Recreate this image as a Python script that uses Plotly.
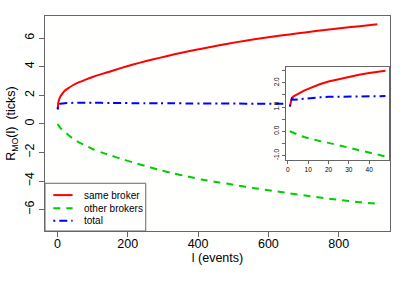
import plotly.graph_objects as go

# ---- data ----
lag_main = [1, 2, 3, 5, 8, 12, 20, 30, 45, 60, 80, 100, 125, 150, 180, 215, 250, 290, 330,
            370, 410, 460, 510, 560, 610, 660, 710, 760, 810, 860, 910]
same_main = [1.0, 1.4, 1.55, 1.72, 1.9, 2.05, 2.3, 2.48, 2.72, 2.9, 3.1, 3.28, 3.48, 3.67,
             3.9, 4.15, 4.38, 4.62, 4.85, 5.06, 5.26, 5.5, 5.72, 5.92, 6.1, 6.26, 6.42, 6.57,
             6.71, 6.84, 6.97]
other_main = [0.0, -0.06, -0.1, -0.18, -0.28, -0.38, -0.55, -0.76, -1.05, -1.28, -1.52, -1.76,
              -2.0, -2.2, -2.44, -2.7, -2.95, -3.22, -3.47, -3.68, -3.9, -4.1, -4.3, -4.5,
              -4.68, -4.86, -5.03, -5.2, -5.35, -5.48, -5.6]
total_main = [1.02, 1.34, 1.35, 1.38, 1.41, 1.43, 1.45, 1.46, 1.47, 1.47, 1.47, 1.47, 1.47, 1.46,
              1.46, 1.45, 1.45, 1.44, 1.44, 1.43, 1.43, 1.42, 1.42, 1.41, 1.41, 1.40, 1.40, 1.39,
              1.39, 1.38, 1.38]

lag_inset = [1, 2, 3, 4, 6, 8, 10, 13, 16, 20, 25, 30, 35, 40, 44, 48]
same_inset = [1.02, 1.38, 1.45, 1.5, 1.6, 1.68, 1.75, 1.85, 1.95, 2.05, 2.15, 2.25, 2.33, 2.4, 2.45, 2.5]
other_inset = [0.0, -0.04, -0.08, -0.12, -0.18, -0.24, -0.29, -0.35, -0.41, -0.48, -0.58, -0.67,
               -0.76, -0.85, -0.93, -1.04]
total_inset = [1.02, 1.34, 1.30, 1.31, 1.33, 1.35, 1.37, 1.39, 1.40, 1.42, 1.43, 1.44, 1.45, 1.45,
               1.45, 1.45]

names = ["same broker", "other brokers", "total"]
main_x_ticks = [0, 200, 400, 600, 800]
main_y_ticks = [-6, -4, -2, 0, 2, 4, 6]
inset_x_ticks = [0, 10, 20, 30, 40]
inset_y_ticks = [-1.0, 0.0, 1.0, 2.0]
inset_y_text = ["-1.0", "0.0", "1.0", "2.0"]
inset_y_minor = [-0.5, 0.5, 1.5, 2.5]

RED = "#FF0000"
GREEN = "#00CD00"
BLUE = "#0000FF"
GRID = "#666666"
FONT = "Liberation Sans, Arial, sans-serif"

styles = [
    dict(color=RED, width=2, dash="solid"),
    dict(color=GREEN, width=2, dash="7px,6px"),
    dict(color=BLUE, width=2, dash="2px,4px,8px,4px"),
]

fig = go.Figure()
for name, ys, st in zip(names, [same_main, other_main, total_main], styles):
    fig.add_trace(go.Scatter(x=lag_main, y=ys, mode="lines", name=name, showlegend=False,
                             line=dict(shape="spline", smoothing=0.8, **st),
                             xaxis="x", yaxis="y"))
for name, ys, st in zip(names, [same_inset, other_inset, total_inset], styles):
    fig.add_trace(go.Scatter(x=lag_inset, y=ys, mode="lines", name=name,
                             line=dict(**st), showlegend=False,
                             xaxis="x2", yaxis="y2"))

axis_common = dict(showgrid=False, zeroline=False, showline=True, mirror=True,
                   linecolor=GRID, linewidth=1, ticks="outside", tickcolor=GRID,
                   tickwidth=1, automargin=False)

# manual legend (box, line samples, labels) in plot-area paper coordinates
leg_x0, leg_x1, leg_y0, leg_y1 = 0.0, 0.292, 0.0, 0.222
leg_rows = [0.167, 0.106, 0.048]
shapes = [dict(type="rect", xref="paper", yref="paper", x0=leg_x0, x1=leg_x1, y0=leg_y0, y1=leg_y1,
               line=dict(color=GRID, width=1), fillcolor="white", layer="above")]
annotations = []
for name, st, yy in zip(names, styles, leg_rows):
    shapes.append(dict(type="line", xref="paper", yref="paper", x0=0.024, x1=0.080, y0=yy, y1=yy,
                       line=dict(color=st["color"], width=2, dash=st["dash"]), layer="above"))
    annotations.append(dict(xref="paper", yref="paper", x=0.106, y=yy, text=name, showarrow=False,
                            xanchor="left", yanchor="middle", font=dict(size=10, color="black")))

fig.update_layout(
    width=407, height=285,
    margin=dict(l=45, r=17, t=16, b=54),
    paper_bgcolor="#FFFFFF",
    plot_bgcolor="#FFFFFE",
    font=dict(family=FONT, size=12, color="black"),
    xaxis=dict(domain=[0, 1], range=[-35.4, 946], tickvals=main_x_ticks, ticklen=5,
               ticklabelstandoff=-4,
               title=dict(text="l (events)", standoff=3, font=dict(size=12.5)),
               tickfont=dict(size=12.5), **axis_common),
    yaxis=dict(domain=[0, 1], range=[-7.5, 7.55], tickvals=main_y_ticks, ticklen=5,
               tickangle=-90, tickfont=dict(size=12.5),
               title=dict(text="R<sub>MO</sub>(l)  (ticks)", standoff=4, font=dict(size=12.5)),
               **axis_common),
    xaxis2=dict(domain=[0.6986, 0.998], anchor="y2", range=[-0.9, 49.9],
                tickvals=inset_x_ticks, ticklen=3, ticklabelstandoff=0,
                tickfont=dict(size=6.5), **axis_common),
    yaxis2=dict(domain=[0.330, 0.7614], anchor="x2", range=[-1.19, 2.64],
                tickvals=inset_y_ticks, ticktext=inset_y_text, ticklen=3, tickangle=-90,
                tickfont=dict(size=6.5),
                minor=dict(tickvals=inset_y_minor, ticks="outside", ticklen=3, tickcolor=GRID),
                **axis_common),
    shapes=shapes,
    annotations=annotations,
    showlegend=False,
)

fig.write_html("out.html", config={"displayModeBar": False},
               post_script="document.body.style.margin='0';")
